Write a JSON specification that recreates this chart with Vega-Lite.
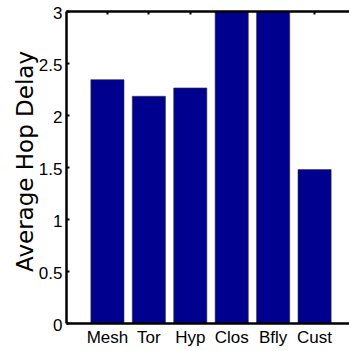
{
  "$schema": "https://vega.github.io/schema/vega-lite/v6.json",
  "autosize": {"type": "none"},
  "padding": {"left": 66, "top": 11, "right": 0, "bottom": 28},
  "width": 290,
  "height": 312,
  "background": "white",
  "data": {"values": [
    {"topology": "Mesh", "delay": 2.34},
    {"topology": "Tor", "delay": 2.18},
    {"topology": "Hyp", "delay": 2.26},
    {"topology": "Clos", "delay": 3.0},
    {"topology": "Bfly", "delay": 3.0},
    {"topology": "Cust", "delay": 1.475}
  ]},
  "config": {"view": {"stroke": null}, "axis": {"grid": false}},
  "layer": [
    {
      "mark": {"type": "bar", "color": "#00008F", "stroke": "#333333", "strokeWidth": 0.6, "clip": true},
      "encoding": {
        "x": {
          "field": "topology", "type": "nominal", "sort": null,
          "scale": {"paddingInner": 0.2, "paddingOuter": 0.6},
          "axis": {"orient": "bottom", "title": null, "labelAngle": 0, "ticks": false,
            "domainColor": "black", "domainWidth": 2.5,
            "labelFont": "Liberation Sans", "labelFontSize": 17, "labelColor": "black",
            "labelPadding": 6, "zindex": 1}
        },
        "y": {
          "field": "delay", "type": "quantitative",
          "scale": {"domain": [0, 3], "nice": false, "clamp": true},
          "axis": {"values": [0, 0.5, 1, 1.5, 2, 2.5, 3], "format": "~g",
            "title": "Average Hop Delay",
            "domainColor": "black", "domainWidth": 2.5,
            "tickColor": "black", "tickSize": -3, "tickWidth": 2,
            "labelFont": "Liberation Sans", "labelFontSize": 17, "labelColor": "black",
            "labelPadding": 7, "labelOffset": 2,
            "titleFont": "DejaVu Sans", "titleFontSize": 23, "titleFontWeight": "normal", "titleColor": "black",
            "titleX": -34, "titleY": 150, "titleBaseline": "alphabetic", "zindex": 1}
        }
      }
    },
    {
      "mark": {"type": "point", "opacity": 0},
      "encoding": {
        "x": {
          "field": "topology", "type": "nominal", "sort": null,
          "axis": {"orient": "top", "values": ["Mesh", "Tor", "Hyp", "Cust"], "labels": false, "title": null,
            "domainColor": "black", "domainWidth": 2.5,
            "tickColor": "black", "tickSize": -3, "tickWidth": 2, "zindex": 1}
        },
        "y": {"datum": 3}
      }
    }
  ],
  "resolve": {"axis": {"x": "independent"}}
}
